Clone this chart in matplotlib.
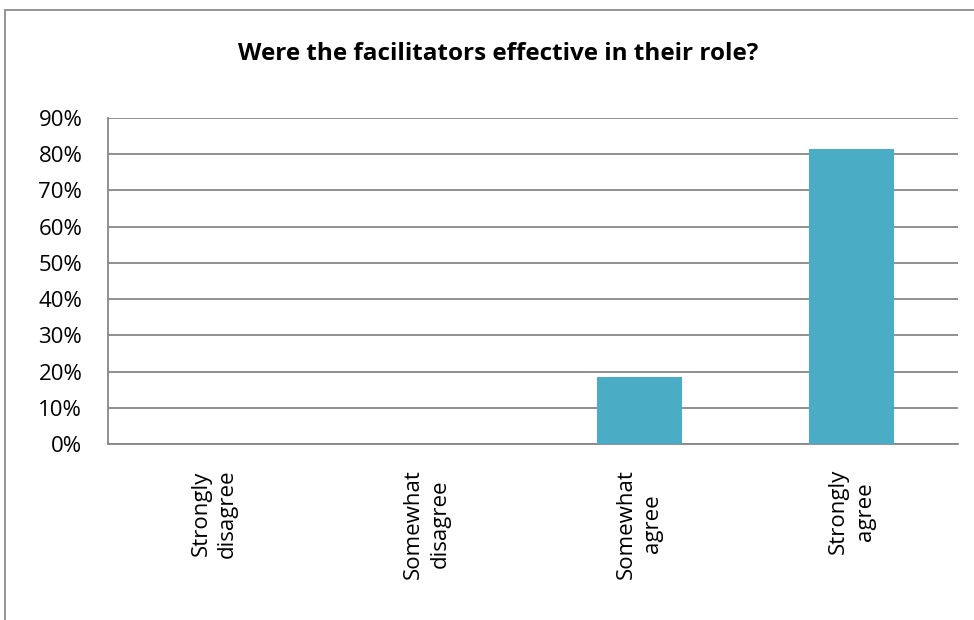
#imports
import matplotlib.pyplot as plt
from matplotlib.patches import Rectangle
from matplotlib.ticker import PercentFormatter

#survey answers and share of responses
categories = ["Strongly\ndisagree", "Somewhat\ndisagree", "Somewhat\nagree", "Strongly\nagree"]
shares = [0.0, 0.0, 0.185, 0.815]
y_ticks = [0.0, 0.1, 0.2, 0.3, 0.4, 0.5, 0.6, 0.7, 0.8, 0.9]

plt.rcParams['font.family'] = ['Open Sans', 'DejaVu Sans']

fig = plt.figure(figsize=(9.74, 6.2), dpi=100)
ax = fig.add_axes([108/974, 1 - 444/620, 850/974, 326/620])

#chart border like the spreadsheet frame
fig.patches.append(Rectangle((5/974, -0.5), 2.0, 0.5 + (1 - 10/620), transform=fig.transFigure,
                             fill=False, edgecolor="#8c8c8c", linewidth=1.3))

ax.bar(range(len(categories)), shares, width=0.4, color="#4bacc6", zorder=3)

ax.set_xlim(-0.5, len(categories) - 0.5)
ax.set_ylim(0, 0.9)
ax.set_yticks(y_ticks)
ax.yaxis.set_major_formatter(PercentFormatter(1.0, decimals=0))
ax.set_xticks(range(len(categories)))
ax.set_xticklabels(categories, rotation=90, ha="center", va="top",
                   multialignment="center", linespacing=1.35)

ax.grid(axis="y", color="#878787", linewidth=1.3, zorder=0)
for side in ["top", "right"]:
    ax.spines[side].set_visible(False)
ax.spines["left"].set_color("#878787")
ax.spines["bottom"].set_color("#878787")
ax.spines["left"].set_linewidth(1.3)
ax.spines["bottom"].set_linewidth(1.3)
ax.tick_params(axis="y", length=0, pad=18.5, labelsize=16)
ax.tick_params(axis="x", length=0, pad=18, labelsize=16)

fig.text(0.511, 1 - 54/620, "Were the facilitators effective in their role?",
         ha="center", va="center", fontsize=17.5, fontweight="bold")

fig.savefig("out.png", dpi=100)
